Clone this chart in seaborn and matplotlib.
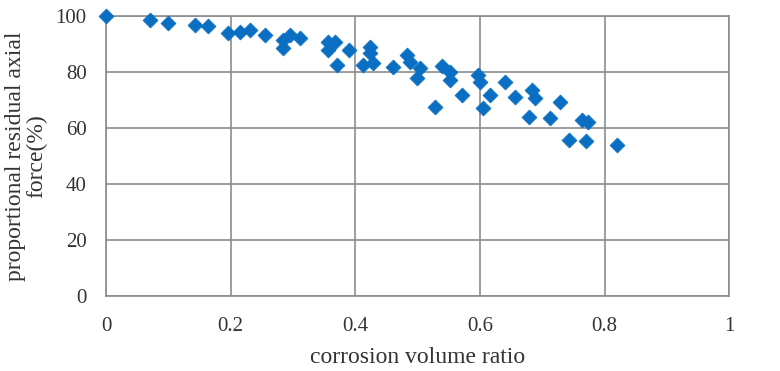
import numpy as np
import pandas as pd
import matplotlib
matplotlib.use("Agg")
import matplotlib.pyplot as plt
import seaborn as sns

# --- data ---
ratio = [0.000, 0.071, 0.100, 0.143, 0.164, 0.196, 0.215, 0.231, 0.255, 0.284,
         0.284, 0.295, 0.311, 0.356, 0.368, 0.356, 0.389, 0.371, 0.424, 0.424,
         0.413, 0.429, 0.461, 0.483, 0.488, 0.504, 0.499, 0.528, 0.539, 0.552,
         0.552, 0.571, 0.597, 0.600, 0.616, 0.605, 0.640, 0.656, 0.684, 0.689,
         0.678, 0.713, 0.729, 0.742, 0.764, 0.774, 0.770, 0.820]
force = [100.0, 98.6, 97.5, 96.8, 96.4, 93.9, 94.3, 95.0, 93.2, 91.4,
         88.6, 93.2, 92.1, 90.7, 90.7, 87.9, 87.9, 82.5, 88.9, 86.8,
         82.5, 83.2, 81.8, 86.1, 83.6, 81.4, 77.9, 67.5, 82.0, 80.0,
         77.1, 71.8, 78.9, 76.4, 71.8, 67.1, 76.4, 71.1, 73.6, 70.7,
         63.9, 63.6, 69.3, 55.7, 62.9, 62.1, 55.4, 53.9]
x_ticks = [0, 0.2, 0.4, 0.6, 0.8, 1]
x_labels = ["0", "0.2", "0.4", "0.6", "0.8", "1"]
y_ticks = [0, 20, 40, 60, 80, 100]

df = pd.DataFrame({"ratio": ratio, "force": force})

sns.set_style("white")
plt.rcParams["font.family"] = ["Liberation Serif", "DejaVu Serif"]

fig = plt.figure(figsize=(7.8, 3.71), dpi=100)
ax = fig.add_axes([0.136, 0.202, 0.799, 0.755])

sns.scatterplot(data=df, x="ratio", y="force", marker="D", s=58,
                color="#0a6fc2", edgecolor="#0a6fc2", linewidth=0.5,
                ax=ax, zorder=3, clip_on=False)

ax.set_xlim(0, 1)
ax.set_ylim(0, 100)
ax.set_xticks(x_ticks)
ax.set_xticklabels(x_labels)
ax.set_yticks(y_ticks)
ax.grid(True, color="#8c8c8c", linewidth=1.2)
for sp in ax.spines.values():
    sp.set_visible(True)
    sp.set_color("#8c8c8c")
    sp.set_linewidth(1.2)
ax.tick_params(axis="both", length=0, labelsize=15, colors="#333333")
ax.tick_params(axis="x", pad=15)
ax.tick_params(axis="y", pad=14)

ax.set_xlabel("corrosion volume ratio", fontsize=17, color="#333333", labelpad=8)
ax.set_ylabel("proportional residual axial\nforce(%)", fontsize=17,
              color="#333333", labelpad=6, linespacing=1.0,
              multialignment="center")

fig.savefig("out.png", dpi=100)
